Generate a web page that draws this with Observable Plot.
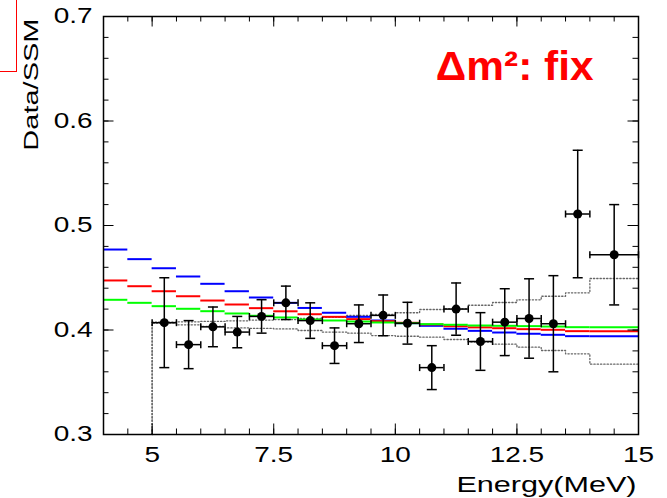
<!DOCTYPE html>
<html><head><meta charset="utf-8">
<script src="https://cdn.jsdelivr.net/npm/d3@7"></script>
<script src="https://cdn.jsdelivr.net/npm/@observablehq/plot@0.6"></script>
<style>
html,body{margin:0;padding:0;background:#fff;}
#chart{position:relative;width:667px;height:498px;overflow:hidden;}
#box{position:absolute;left:-10px;top:-10px;width:27px;height:82px;box-sizing:border-box;border:1.5px solid #f00;}
</style></head><body><div id="chart"><div id="box"></div></div>
<script>
// ---- data ----
const pointX    = [5.25,5.75,6.25,6.75,7.25,7.75,8.25,8.75,9.25,9.75,10.25,10.75,11.25,11.75,12.25,12.75,13.25,13.75,14.5];
const pointXErr = [0.25,0.25,0.25,0.25,0.25,0.25,0.25,0.25,0.25,0.25,0.25,0.25,0.25,0.25,0.25,0.25,0.25,0.25,0.5];
const pointY    = [0.407,0.386,0.403,0.398,0.413,0.426,0.409,0.385,0.406,0.414,0.4065,0.364,0.420,0.389,0.4075,0.411,0.406,0.511,0.472];
const pointYErr = [0.043,0.023,0.019,0.015,0.016,0.016,0.017,0.017,0.018,0.0195,0.020,0.021,0.025,0.0276,0.032,0.038,0.046,0.061,0.048];

const histEdges = [4,4.5,5,5.5,6,6.5,7,7.5,8,8.5,9,9.5,10,10.5,11,11.5,12,12.5,13,13.5,14,15];
const blueHist  = [0.4770,0.4678,0.4591,0.4512,0.4442,0.4371,0.4311,0.4260,0.4211,0.4165,0.4126,0.4091,0.4065,0.4040,0.4012,0.3992,0.3976,0.3964,0.3954,0.3941,0.3941];
const redHist   = [0.4474,0.4419,0.4371,0.4323,0.4282,0.4244,0.4209,0.4179,0.4151,0.4126,0.4104,0.4084,0.4069,0.4053,0.4036,0.4025,0.4017,0.4008,0.4002,0.3989,0.3989];
const greenHist = [0.4289,0.4260,0.4228,0.4203,0.4180,0.4158,0.4136,0.4120,0.4100,0.4091,0.4081,0.4072,0.4065,0.4056,0.4050,0.4043,0.4040,0.4037,0.4033,0.4027,0.4027];

const bandEdges = [5,5.5,6,6.5,7,7.5,8,8.5,9,9.5,10,10.5,11,11.5,12,12.5,13,13.5,14,15];
const bandUpper = [0.4075,0.4078,0.4082,0.4088,0.4095,0.4100,0.4110,0.4120,0.4140,0.4150,0.4165,0.4196,0.4205,0.4237,0.4263,0.4289,0.4323,0.4356,0.4493];
const bandLower = [0.4065,0.4050,0.4035,0.4020,0.4015,0.4010,0.3995,0.3980,0.3970,0.3947,0.3940,0.3931,0.3909,0.3885,0.3864,0.3836,0.3804,0.3772,0.3673];

const xTickLabels = [5,7.5,10,12.5,15];
const yTickLabels = [0.3,0.4,0.5,0.6,0.7];
const xDomain = [4,15];
const yDomain = [0.3,0.7];
const xTitle = "Energy(MeV)";
const yTitle = "Data/SSM";
const note = "\u0394m\u00b2: fix";

// ---- build ----
const W = 667, H = 498, mt = 16, mr = 29, mb = 64, ml = 103;
const FH = H - mt - mb, FW = W - ml - mr;
const FONT = "Liberation Sans, Arial, Helvetica, sans-serif";

const points = pointX.map((x,i)=>({x, ex: pointXErr[i], y: pointY[i], ey: pointYErr[i]}));
const segs = (vals, color) => vals.map((v,i)=>({x1: histEdges[i], x2: histEdges[i+1], y: v, color}));
const allSegs = [...segs(blueHist,"#0000ff"), ...segs(redHist,"#ff0000"), ...segs(greenHist,"#00ff00")];
const stepLine = (vals) => [{x: bandEdges[0], y: yDomain[0]}, ...vals.map((v,i)=>({x: bandEdges[i], y: v})), {x: bandEdges[bandEdges.length-1], y: vals[vals.length-1]}];

const xMinor = d3.range(xDomain[0], xDomain[1] + 0.001, 0.5);
const yMinor = d3.range(yDomain[0], yDomain[1] + 0.0001, 0.02);

const hCap = {draw(ctx, size){const r = Math.sqrt(size/Math.PI); ctx.moveTo(-r,0); ctx.lineTo(r,0);}};
const vCap = {draw(ctx, size){const r = Math.sqrt(size/Math.PI); ctx.moveTo(0,-r); ctx.lineTo(0,r);}};

const svg = Plot.plot({
  width: W, height: H,
  marginTop: mt, marginRight: mr, marginBottom: mb, marginLeft: ml,
  style: {fontFamily: FONT, background: "white", overflow: "visible"},
  x: {domain: xDomain},
  y: {domain: yDomain},
  marks: [
    // dotted bands
    Plot.line(stepLine(bandUpper), {x: "x", y: "y", curve: "step-after", stroke: "#666", strokeWidth: 1.3, strokeDasharray: "1.3,2"}),
    Plot.line(stepLine(bandLower), {x: "x", y: "y", curve: "step-after", stroke: "#666", strokeWidth: 1.3, strokeDasharray: "1.3,2"}),
    // model histograms
    Plot.ruleY(allSegs, {y: "y", x1: "x1", x2: "x2", stroke: "color", strokeWidth: 2}),
    // data error bars
    Plot.ruleX(points, {x: "x", y1: d=>d.y-d.ey, y2: d=>d.y+d.ey, stroke: "black", strokeWidth: 1.5}),
    Plot.ruleY(points, {y: "y", x1: d=>d.x-d.ex, x2: d=>d.x+d.ex, stroke: "black", strokeWidth: 1.5}),
    Plot.dot(points, {x: "x", y: d=>d.y+d.ey, symbol: hCap, r: 5, stroke: "black", strokeWidth: 1.5}),
    Plot.dot(points, {x: "x", y: d=>d.y-d.ey, symbol: hCap, r: 5, stroke: "black", strokeWidth: 1.5}),
    Plot.dot(points, {x: d=>d.x-d.ex, y: "y", symbol: vCap, r: 3.5, stroke: "black", strokeWidth: 1.5}),
    Plot.dot(points, {x: d=>d.x+d.ex, y: "y", symbol: vCap, r: 3.5, stroke: "black", strokeWidth: 1.5}),
    Plot.dot(points, {x: "x", y: "y", r: 4.5, fill: "black"}),
    // frame and inward ticks
    Plot.frame({stroke: "black", strokeWidth: 1.5}),
    Plot.ruleX(xMinor, {x: d=>d, insetTop: FH - 5.5, stroke: "black"}),
    Plot.ruleX(xMinor, {x: d=>d, insetBottom: FH - 5.5, stroke: "black"}),
    Plot.ruleX(xTickLabels, {x: d=>d, insetTop: FH - 10.5, stroke: "black"}),
    Plot.ruleX(xTickLabels, {x: d=>d, insetBottom: FH - 10.5, stroke: "black"}),
    Plot.ruleY(yMinor, {y: d=>d, insetRight: FW - 5.5, stroke: "black"}),
    Plot.ruleY(yMinor, {y: d=>d, insetLeft: FW - 5.5, stroke: "black"}),
    Plot.ruleY(yTickLabels, {y: d=>d, insetRight: FW - 10.5, stroke: "black"}),
    Plot.ruleY(yTickLabels, {y: d=>d, insetLeft: FW - 10.5, stroke: "black"}),
    // tick labels
    Plot.axisX(xTickLabels, {anchor: "bottom", tickSize: 0, tickPadding: 12, label: null, fontSize: 21.5, fontFamily: FONT, tickFormat: d=>String(d), fill: "black"}),
    Plot.axisY(yTickLabels, {anchor: "left", tickSize: 0, tickPadding: 11, label: null, fontSize: 21.5, fontFamily: FONT, tickFormat: d3.format(".1f"), fill: "black"}),
    // titles
    Plot.text([xTitle], {text: d=>d, frameAnchor: "bottom-right", textAnchor: "end", lineAnchor: "bottom", dx: -2, dy: 57, fontSize: 22, fontFamily: FONT, fill: "black"}),
    Plot.text([yTitle], {text: d=>d, frameAnchor: "top-left", rotate: -90, textAnchor: "end", lineAnchor: "bottom", dx: -66, dy: 2, fontSize: 20, fontFamily: FONT, fill: "black"}),
    Plot.text([note], {text: d=>d, frameAnchor: "top-right", textAnchor: "end", lineAnchor: "bottom", dx: -45, dy: 63, fontSize: 40, fontWeight: "bold", fontFamily: FONT, fill: "#ff0000"})
  ]
});
document.getElementById("chart").appendChild(svg);

function stretchEl(t, f){
  const L = t.getComputedTextLength();
  t.setAttribute("textLength", (L*f).toFixed(2));
  t.setAttribute("lengthAdjust", "spacingAndGlyphs");
}
svg.querySelectorAll('g[aria-label="x-axis tick label"] text, g[aria-label="y-axis tick label"] text').forEach(t=>stretchEl(t, 1.3));
svg.querySelectorAll("text").forEach(t=>{
  const s = t.textContent;
  if (s === xTitle) stretchEl(t, 1.39);
  else if (s === yTitle) stretchEl(t, 1.45);
  else if (s === note) stretchEl(t, 1.06);
});
</script>
</body></html>
